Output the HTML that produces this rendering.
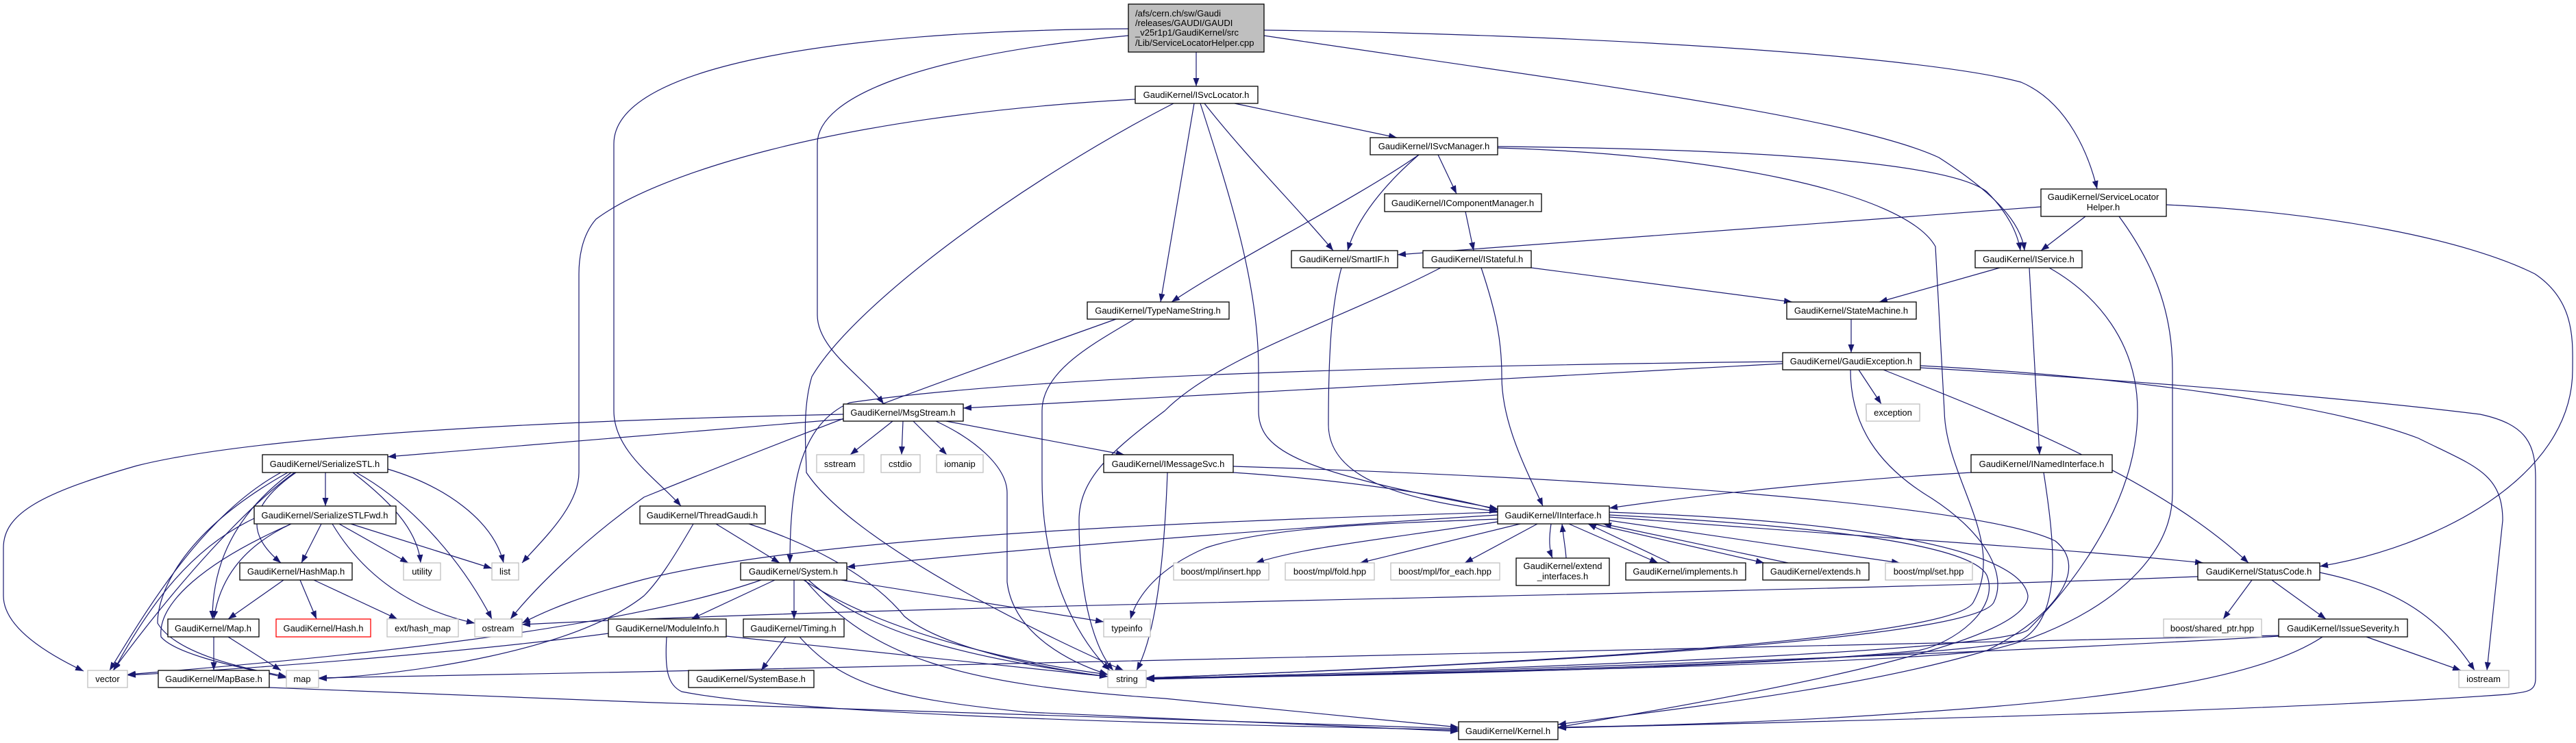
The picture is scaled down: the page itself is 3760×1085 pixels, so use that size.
<!DOCTYPE html>
<html><head><meta charset="utf-8"><style>
html,body{margin:0;padding:0;background:#fff;}
svg{display:block;}
text{font-family:"Liberation Sans",sans-serif;font-size:13px;fill:#000;}
.e{fill:none;stroke:#191970;stroke-width:1.2;marker-end:url(#a);}
.n{fill:#fff;stroke:#000;stroke-width:1.3;}
.g{fill:#fff;stroke:#bfbfbf;stroke-width:1.3;}
.r{fill:#fff;stroke:#ff0000;stroke-width:1.3;}
</style></head><body>
<svg width="3760" height="1085" viewBox="0 0 3760 1085" xmlns="http://www.w3.org/2000/svg">
<defs><marker id="a" markerUnits="userSpaceOnUse" markerWidth="12" markerHeight="9" refX="12" refY="4.5" orient="auto"><path d="M0,0 L12,4.5 L0,9 z" fill="#191970"/></marker></defs>
<g>
<path class="e" d="M1746,76 L1746,126"/>
<path class="e" d="M1647,42 C1200,45 896,100 896,210 L896,600 C896,660 960,700 994,739"/>
<path class="e" d="M1647,52 C1350,80 1193,140 1193,210 L1193,460 C1193,510 1260,550 1290,590"/>
<path class="e" d="M1845,44 C2300,50 2800,80 2950,120 C3020,150 3050,230 3061,276"/>
<path class="e" d="M1845,52 C2300,120 2700,170 2830,230 C2900,275 2950,320 2955,366"/>
<path class="e" d="M1657,145 C1200,170 950,260 870,320 C848,345 845,380 845,400 L845,690 C845,740 790,790 762,822"/>
<path class="e" d="M1713,151 C1500,260 1250,440 1185,550 C1170,600 1177,660 1177,690 C1250,800 1550,940 1640,979"/>
<path class="e" d="M1743,151 L1694,441"/>
<path class="e" d="M1752,151 C1800,300 1837,420 1837,540 L1837,600 C1837,660 1900,690 2186,743"/>
<path class="e" d="M1758,151 C1820,230 1900,310 1946,366"/>
<path class="e" d="M1802,151 L2039,201"/>
<path class="e" d="M2071,226 C1980,290 1800,380 1710,441"/>
<path class="e" d="M2071,226 C2020,270 1980,320 1967,366"/>
<path class="e" d="M2099,226 L2126,283"/>
<path class="e" d="M2186,214 C2600,218 2850,240 2900,280 C2930,310 2945,340 2949,366"/>
<path class="e" d="M2186,216 C2500,225 2780,280 2825,360 L2838,600 C2840,700 2930,790 2880,880 C2840,950 1800,985 1673,990"/>
<path class="e" d="M2139,309 L2151,366"/>
<path class="e" d="M1958,391 C1945,440 1939,500 1939,620 C1939,700 2050,730 2186,747"/>
<path class="e" d="M2162,391 C2185,460 2192,500 2192,550 C2192,620 2230,690 2252,739"/>
<path class="e" d="M2235,391 L2616,441"/>
<path class="e" d="M2103,391 C1950,470 1780,520 1700,600 C1620,660 1575,700 1575,760 C1575,880 1600,950 1625,979"/>
<path class="e" d="M1656,466 C1600,500 1521,540 1521,600 L1521,700 C1521,850 1580,940 1620,979"/>
<path class="e" d="M1629,466 C1450,530 1250,600 940,726 C850,790 780,860 745,904"/>
<path class="e" d="M2919,391 L2743,441"/>
<path class="e" d="M2962,391 L2977,664"/>
<path class="e" d="M2991,391 C3060,430 3120,500 3120,600 C3120,750 3000,880 2960,920 C2900,960 1800,988 1673,991"/>
<path class="e" d="M3044,316 L2979,366"/>
<path class="e" d="M2979,302 C2600,330 2300,350 2040,372"/>
<path class="e" d="M3093,316 C3140,380 3171,450 3171,540 L3171,720 C3171,850 3000,930 2900,950 C2700,975 1800,988 1673,992"/>
<path class="e" d="M3162,299 C3400,310 3600,350 3700,400 C3760,440 3755,500 3755,540 C3755,700 3550,800 3386,827"/>
<path class="e" d="M2702,466 L2702,515"/>
<path class="e" d="M2602,531 L1406,596"/>
<path class="e" d="M2602,528 C2000,535 1500,550 1240,588 C1170,620 1153,700 1153,822"/>
<path class="e" d="M2713,540 L2746,590"/>
<path class="e" d="M2701,540 C2701,620 2740,680 2820,728 C2900,780 2930,840 2910,880 C2870,950 1800,985 1673,990"/>
<path class="e" d="M2749,540 C2950,620 3150,700 3282,822"/>
<path class="e" d="M2803,534 C3100,550 3400,590 3530,640 C3610,680 3653,690 3653,760 L3630,979"/>
<path class="e" d="M2803,537 C3200,560 3500,590 3620,605 C3690,620 3701,650 3701,700 L3701,990 C3701,1010 3690,1010 3660,1014 C3300,1040 2600,1055 2274,1063"/>
<path class="e" d="M1231,612 L566,667"/>
<path class="e" d="M1231,605 C900,612 400,630 200,680 C60,720 5,750 5,800 L5,870 C5,920 80,960 122,980"/>
<path class="e" d="M1303,615 L1241,664"/>
<path class="e" d="M1318,615 L1316,664"/>
<path class="e" d="M1333,615 L1382,664"/>
<path class="e" d="M1366,615 C1420,640 1470,680 1470,720 L1470,850 C1480,930 1570,970 1617,985"/>
<path class="e" d="M1381,615 L1641,664"/>
<path class="e" d="M1045,765 L1138,822"/>
<path class="e" d="M1012,765 C980,820 960,850 940,870 C840,950 600,985 465,991"/>
<path class="e" d="M1093,765 C1200,800 1280,850 1320,900 C1380,950 1550,980 1617,988"/>
<path class="e" d="M1800,690 C1950,700 2100,720 2186,745"/>
<path class="e" d="M1800,681 C2400,700 2900,740 3000,790 C3050,830 3000,900 2900,950 C2700,1010 2400,1040 2274,1058"/>
<path class="e" d="M1704,690 C1700,800 1690,920 1659,979"/>
<path class="e" d="M2186,748 C1800,760 1200,780 940,846 C850,870 800,890 762,910"/>
<path class="e" d="M2186,752 C1900,770 1500,800 1236,828"/>
<path class="e" d="M2186,758 C2000,765 1850,770 1760,800 C1690,830 1660,870 1650,904"/>
<path class="e" d="M2186,762 C2000,790 1900,800 1833,822"/>
<path class="e" d="M2219,765 L1985,822"/>
<path class="e" d="M2244,765 L2138,822"/>
<path class="e" d="M2264,765 C2260,790 2262,805 2266,815"/>
<path class="e" d="M2286,815 C2285,800 2282,785 2280,765"/>
<path class="e" d="M2290,765 L2420,822"/>
<path class="e" d="M2438,822 L2318,765"/>
<path class="e" d="M2326,765 L2575,822"/>
<path class="e" d="M2610,822 L2340,765"/>
<path class="e" d="M2349,760 L2773,822"/>
<path class="e" d="M2349,755 C2800,790 3000,800 3216,822"/>
<path class="e" d="M2349,752 C2700,770 2880,800 2900,840 C2920,890 2850,940 2800,950 C2500,980 1900,988 1673,990"/>
<path class="e" d="M2349,748 C2700,760 2950,800 2960,870 C2960,930 2700,990 2274,1062"/>
<path class="e" d="M1131,847 L1009,904"/>
<path class="e" d="M1159,847 L1159,904"/>
<path class="e" d="M1111,847 C900,920 500,960 186,985"/>
<path class="e" d="M1173,847 C1300,930 1500,970 1617,985"/>
<path class="e" d="M1180,847 C1260,920 1400,960 1617,988"/>
<path class="e" d="M1228,847 L1611,908"/>
<path class="e" d="M1175,847 C1270,960 1400,1000 1700,1020 C1900,1040 2050,1055 2129,1062"/>
<path class="e" d="M1060,929 L1617,988"/>
<path class="e" d="M973,930 C970,980 975,1000 995,1010 C1200,1050 1900,1060 2129,1066"/>
<path class="e" d="M888,925 C700,950 400,975 186,986"/>
<path class="e" d="M1147,930 L1111,979"/>
<path class="e" d="M1167,930 C1230,1000 1300,1020 1500,1040 C1800,1055 2000,1063 2129,1068"/>
<path class="e" d="M475,690 L475,739"/>
<path class="e" d="M410,690 C300,750 220,880 160,979"/>
<path class="e" d="M430,690 C360,740 260,850 165,979"/>
<path class="e" d="M425,690 C330,760 310,840 310,904"/>
<path class="e" d="M432,690 C360,740 360,780 410,822"/>
<path class="e" d="M420,690 C260,780 230,870 230,910 C260,960 380,980 418,988"/>
<path class="e" d="M515,690 C580,740 610,780 614,822"/>
<path class="e" d="M520,690 C610,740 680,830 718,904"/>
<path class="e" d="M566,685 C650,710 720,760 735,822"/>
<path class="e" d="M469,765 L440,822"/>
<path class="e" d="M495,765 L596,822"/>
<path class="e" d="M512,765 L718,830"/>
<path class="e" d="M485,765 C530,840 600,890 693,910"/>
<path class="e" d="M425,765 C350,800 320,850 312,904"/>
<path class="e" d="M425,765 C300,820 230,880 235,930 C260,960 380,980 418,990"/>
<path class="e" d="M371,757 C280,800 220,880 166,979"/>
<path class="e" d="M414,847 L333,904"/>
<path class="e" d="M438,847 L462,904"/>
<path class="e" d="M458,847 L580,904"/>
<path class="e" d="M312,930 L312,979"/>
<path class="e" d="M333,930 L410,979"/>
<path class="e" d="M393,1004 C1000,1030 1800,1055 2129,1064"/>
<path class="e" d="M3287,847 L3245,904"/>
<path class="e" d="M3316,847 L3395,904"/>
<path class="e" d="M3386,836 C3500,860 3560,900 3612,979"/>
<path class="e" d="M3208,842 C2500,870 1400,880 762,912"/>
<path class="e" d="M3454,930 L3592,979"/>
<path class="e" d="M3326,929 C2800,960 2000,985 1673,992"/>
<path class="e" d="M3326,928 C2600,950 1500,970 465,990"/>
<path class="e" d="M3390,930 C3300,990 3100,1020 2800,1040 C2600,1055 2400,1060 2274,1062"/>
<path class="e" d="M2877,690 C2700,700 2500,720 2349,742"/>
<path class="e" d="M2983,690 C3000,800 3010,900 2950,935 C2800,970 1900,988 1673,990"/>
</g>
<g>
<rect x="1647" y="6" width="198" height="70" fill="#bfbfbf" stroke="#000" stroke-width="1.3"/>
<text x="1657" y="24">/afs/cern.ch/sw/Gaudi</text>
<text x="1657" y="38">/releases/GAUDI/GAUDI</text>
<text x="1657" y="52">_v25r1p1/GaudiKernel/src</text>
<text x="1657" y="67">/Lib/ServiceLocatorHelper.cpp</text>
</g>
<g text-anchor="middle">
<rect class="n" x="1657" y="126" width="179" height="25"/><text x="1746" y="143">GaudiKernel/ISvcLocator.h</text>
<rect class="n" x="1587" y="441" width="207" height="25"/><text x="1690" y="458">GaudiKernel/TypeNameString.h</text>
<rect class="n" x="2000" y="201" width="186" height="25"/><text x="2093" y="218">GaudiKernel/ISvcManager.h</text>
<rect class="n" x="2021" y="283" width="229" height="26"/><text x="2135" y="301">GaudiKernel/IComponentManager.h</text>
<rect class="n" x="1885" y="366" width="155" height="25"/><text x="1962" y="383">GaudiKernel/SmartIF.h</text>
<rect class="n" x="2077" y="366" width="158" height="25"/><text x="2156" y="383">GaudiKernel/IStateful.h</text>
<rect class="n" x="2608" y="441" width="189" height="25"/><text x="2702" y="458">GaudiKernel/StateMachine.h</text>
<rect class="n" x="2602" y="515" width="201" height="25"/><text x="2702" y="532">GaudiKernel/GaudiException.h</text>
<rect class="n" x="2979" y="276" width="183" height="40"/><text x="3070" y="292">GaudiKernel/ServiceLocator</text><text x="3070" y="307">Helper.h</text>
<rect class="n" x="2883" y="366" width="156" height="25"/><text x="2961" y="383">GaudiKernel/IService.h</text>
<rect class="n" x="383" y="664" width="183" height="26"/><text x="474" y="682">GaudiKernel/SerializeSTL.h</text>
<rect class="n" x="371" y="739" width="207" height="26"/><text x="474" y="757">GaudiKernel/SerializeSTLFwd.h</text>
<rect class="n" x="350" y="822" width="164" height="25"/><text x="432" y="839">GaudiKernel/HashMap.h</text>
<rect class="g" x="589" y="822" width="54" height="25"/><text x="616" y="839">utility</text>
<rect class="g" x="718" y="822" width="39" height="25"/><text x="737" y="839">list</text>
<rect class="n" x="245" y="904" width="133" height="26"/><text x="311" y="922">GaudiKernel/Map.h</text>
<rect class="r" x="403" y="904" width="138" height="26"/><text x="472" y="922">GaudiKernel/Hash.h</text>
<rect class="g" x="565" y="904" width="104" height="26"/><text x="617" y="922">ext/hash_map</text>
<rect class="g" x="693" y="904" width="69" height="26"/><text x="727" y="922">ostream</text>
<rect class="g" x="128" y="979" width="58" height="25"/><text x="157" y="996">vector</text>
<rect class="n" x="231" y="979" width="162" height="25"/><text x="312" y="996">GaudiKernel/MapBase.h</text>
<rect class="g" x="418" y="979" width="47" height="25"/><text x="441" y="996">map</text>
<rect class="n" x="1231" y="590" width="175" height="25"/><text x="1318" y="607">GaudiKernel/MsgStream.h</text>
<rect class="g" x="1192" y="664" width="69" height="26"/><text x="1226" y="682">sstream</text>
<rect class="g" x="1286" y="664" width="57" height="26"/><text x="1314" y="682">cstdio</text>
<rect class="g" x="1367" y="664" width="68" height="26"/><text x="1401" y="682">iomanip</text>
<rect class="n" x="1611" y="664" width="189" height="26"/><text x="1705" y="682">GaudiKernel/IMessageSvc.h</text>
<rect class="n" x="934" y="739" width="183" height="26"/><text x="1025" y="757">GaudiKernel/ThreadGaudi.h</text>
<rect class="n" x="1081" y="822" width="155" height="25"/><text x="1158" y="839">GaudiKernel/System.h</text>
<rect class="g" x="1713" y="822" width="139" height="25"/><text x="1782" y="839">boost/mpl/insert.hpp</text>
<rect class="n" x="888" y="904" width="172" height="26"/><text x="974" y="922">GaudiKernel/ModuleInfo.h</text>
<rect class="n" x="1085" y="904" width="147" height="26"/><text x="1158" y="922">GaudiKernel/Timing.h</text>
<rect class="g" x="1611" y="904" width="68" height="26"/><text x="1645" y="922">typeinfo</text>
<rect class="n" x="1005" y="979" width="183" height="25"/><text x="1096" y="996">GaudiKernel/SystemBase.h</text>
<rect class="g" x="1617" y="979" width="56" height="25"/><text x="1645" y="996">string</text>
<rect class="g" x="2724" y="590" width="78" height="25"/><text x="2763" y="607">exception</text>
<rect class="n" x="2186" y="739" width="163" height="26"/><text x="2267" y="757">GaudiKernel/IInterface.h</text>
<rect class="g" x="1876" y="822" width="130" height="25"/><text x="1941" y="839">boost/mpl/fold.hpp</text>
<rect class="g" x="2030" y="822" width="159" height="25"/><text x="2109" y="839">boost/mpl/for_each.hpp</text>
<rect class="n" x="2213" y="815" width="136" height="40"/><text x="2281" y="831">GaudiKernel/extend</text><text x="2281" y="846">_interfaces.h</text>
<rect class="n" x="2373" y="822" width="175" height="25"/><text x="2460" y="839">GaudiKernel/implements.h</text>
<rect class="n" x="2573" y="822" width="155" height="25"/><text x="2650" y="839">GaudiKernel/extends.h</text>
<rect class="g" x="2752" y="822" width="127" height="25"/><text x="2815" y="839">boost/mpl/set.hpp</text>
<rect class="n" x="2129" y="1054" width="145" height="26"/><text x="2201" y="1072">GaudiKernel/Kernel.h</text>
<rect class="n" x="2877" y="664" width="206" height="26"/><text x="2980" y="682">GaudiKernel/INamedInterface.h</text>
<rect class="n" x="3208" y="822" width="178" height="25"/><text x="3297" y="839">GaudiKernel/StatusCode.h</text>
<rect class="g" x="3158" y="904" width="143" height="26"/><text x="3229" y="922">boost/shared_ptr.hpp</text>
<rect class="n" x="3326" y="904" width="188" height="26"/><text x="3420" y="922">GaudiKernel/IssueSeverity.h</text>
<rect class="g" x="3589" y="979" width="73" height="25"/><text x="3625" y="996">iostream</text>
</g>
</svg>
</body></html>
